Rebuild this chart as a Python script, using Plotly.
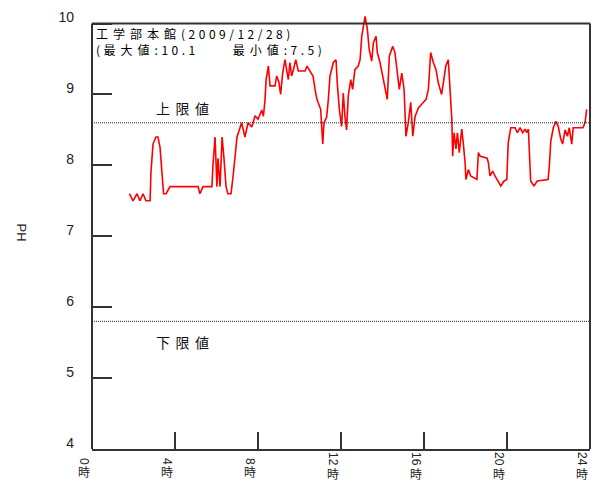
import plotly.graph_objects as go

# ---- data ----
hours = [1.80, 1.98, 2.17, 2.31, 2.46, 2.60, 2.80, 2.84, 2.94, 3.08,
         3.18, 3.28, 3.37, 3.45, 3.57, 3.76, 5.11, 5.20, 5.35, 5.78,
         5.83, 5.93, 6.02, 6.07, 6.17, 6.27, 6.36, 6.46, 6.55, 6.70,
         6.80, 6.89, 6.99, 7.21, 7.37, 7.52, 7.70, 7.86, 8.00, 8.18,
         8.26, 8.34, 8.39, 8.50, 8.58, 8.82, 8.90, 9.01, 9.09, 9.19,
         9.30, 9.38, 9.46, 9.54, 9.62, 9.70, 9.82, 9.94, 10.27, 10.36,
         10.51, 10.65, 10.75, 10.84, 11.02, 11.12, 11.18, 11.31, 11.39, 11.47,
         11.63, 11.76, 11.82, 11.92, 12.03, 12.11, 12.19, 12.27, 12.35, 12.47,
         12.56, 12.67, 12.83, 12.92, 13.00, 13.16, 13.27, 13.36, 13.48, 13.56,
         13.69, 13.75, 13.88, 14.01, 14.17, 14.23, 14.33, 14.49, 14.60, 14.71,
         14.81, 14.93, 15.04, 15.13, 15.24, 15.36, 15.46, 15.57, 15.73, 15.94,
         16.10, 16.21, 16.32, 16.45, 16.58, 16.69, 16.85, 16.93, 17.05, 17.17,
         17.25, 17.34, 17.38, 17.45, 17.54, 17.61, 17.70, 17.82, 17.89, 17.98,
         18.02, 18.14, 18.25, 18.55, 18.62, 18.70, 19.04, 19.10, 19.18, 19.31,
         19.42, 19.58, 19.70, 19.86, 19.99, 20.06, 20.18, 20.39, 20.50, 20.63,
         20.76, 20.87, 20.95, 21.03, 21.07, 21.14, 21.30, 21.46, 21.98, 22.04,
         22.11, 22.23, 22.36, 22.47, 22.59, 22.68, 22.80, 22.91, 23.00, 23.12,
         23.19, 23.66, 23.76, 23.84]

ph = [7.6, 7.5, 7.6, 7.5, 7.6, 7.5, 7.5, 7.9, 8.3, 8.4,
      8.4, 8.25, 7.9, 7.6, 7.6, 7.7, 7.7, 7.6, 7.7, 7.7,
      8.0, 8.4, 7.7, 8.1, 7.7, 8.4, 8.1, 7.7, 7.6, 7.6,
      7.85, 8.13, 8.4, 8.6, 8.4, 8.6, 8.54, 8.7, 8.65, 8.78,
      8.69, 8.93, 9.21, 9.4, 9.12, 9.12, 9.26, 9.17, 9.0, 9.3,
      9.49, 9.35, 9.21, 9.45, 9.26, 9.34, 9.49, 9.33, 9.33, 9.4,
      9.33, 9.26, 9.07, 8.93, 8.79, 8.3, 8.6, 8.68, 8.93, 9.26,
      9.45, 9.49, 9.16, 8.79, 8.55, 9.02, 8.69, 8.5, 8.98, 9.21,
      9.07, 9.35, 9.4, 9.49, 9.82, 10.1, 9.92, 9.63, 9.47, 9.73,
      9.82, 9.59, 9.45, 9.26, 9.03, 8.93, 9.54, 9.68, 9.59, 9.35,
      9.07, 9.3, 9.07, 8.41, 8.6, 8.89, 8.41, 8.69, 8.81, 8.88,
      8.93, 9.07, 9.59, 9.45, 9.35, 9.16, 9.0, 9.16, 9.4, 9.49,
      9.16, 8.65, 8.13, 8.46, 8.23, 8.46, 8.18, 8.51, 8.32, 8.04,
      7.8, 7.94, 7.85, 7.8, 8.18, 8.13, 8.1, 8.04, 7.85, 7.92,
      7.85, 7.76, 7.71, 7.78, 7.8, 8.32, 8.53, 8.53, 8.46, 8.53,
      8.46, 8.51, 8.46, 8.51, 8.15, 7.78, 7.71, 7.78, 7.8, 7.99,
      8.34, 8.53, 8.62, 8.55, 8.37, 8.3, 8.5, 8.41, 8.53, 8.3,
      8.53, 8.53, 8.6, 8.79]

upper_limit = 8.6
lower_limit = 5.8
x_tick_vals = [0, 4, 8, 12, 16, 20, 24]
x_tick_labels = ["0時", "4時", "8時", "12時", "16時", "20時", "24時"]
y_tick_vals = [4, 5, 6, 7, 8, 9, 10]
title_lines = ["工学部本館(2009/12/28)", "(最大値:10.1\u3000\u3000最小値:7.5)"]
y_title = "PH"
upper_label = "上限値"
lower_label = "下限値"

CJK = "Noto Sans CJK JP"
LAT = "Liberation Sans, Arial, sans-serif"
FRAME = "#333333"


def is_cjk(ch):
    return ord(ch) > 0x2E80


def spaced(text, cjk_ls, lat_ls):
    out, run, cur = [], "", None
    for ch in text:
        kind = is_cjk(ch)
        if cur is not None and kind != cur:
            out.append((cur, run))
            run = ""
        cur = kind
        run += ch
    if run:
        out.append((cur, run))
    return "".join(
        '<span style="letter-spacing:%spx">%s</span>' % (cjk_ls if k else lat_ls, r)
        for k, r in out)


fig = go.Figure()
fig.add_trace(go.Scatter(x=hours, y=ph, mode="lines",
                         line=dict(color="#ff0000", width=1.6),
                         hoverinfo="skip", showlegend=False))

fig.update_layout(
    width=593, height=484,
    margin=dict(l=92, r=3, t=15, b=35),
    paper_bgcolor="white", plot_bgcolor="white",
    showlegend=False,
)
fig.update_xaxes(range=[0, 24], tickvals=x_tick_vals, showticklabels=False,
                 ticks="inside", ticklen=17, tickwidth=2, tickcolor=FRAME,
                 showgrid=False, zeroline=False,
                 showline=True, linecolor=FRAME, linewidth=2)
fig.update_yaxes(range=[4, 10.12], tickvals=y_tick_vals,
                 ticks="inside", ticklen=20, tickwidth=2, tickcolor=FRAME,
                 showgrid=False, zeroline=False, showline=False,
                 tickfont=dict(family=LAT, size=14, color="#222222"),
                 ticklabelstandoff=17, ticklabelshift=-6)

ymin, ymax = y_tick_vals[0], y_tick_vals[-1]
shapes = [
    dict(type="line", xref="paper", yref="y", x0=0, x1=0, y0=ymin, y1=ymax,
         line=dict(color=FRAME, width=2)),
    dict(type="line", xref="paper", yref="y", x0=1, x1=1, y0=ymin, y1=ymax,
         line=dict(color=FRAME, width=2)),
    dict(type="line", xref="paper", yref="y", x0=0, x1=1, y0=ymax, y1=ymax,
         line=dict(color=FRAME, width=2)),
    dict(type="line", xref="paper", yref="y", x0=0, x1=1,
         y0=upper_limit, y1=upper_limit,
         line=dict(color="#222222", width=1, dash="1px,1px")),
    dict(type="line", xref="paper", yref="y", x0=0, x1=1,
         y0=lower_limit, y1=lower_limit,
         line=dict(color="#222222", width=1, dash="1px,1px")),
]
fig.update_layout(shapes=shapes)

ann = []
# title (two lines) inside the frame
title_text = "<br>".join(spaced(line, 5, 3.5) for line in title_lines)
ann.append(dict(text=title_text, xref="paper", yref="y",
                x=0, y=ymax, xanchor="left", yanchor="top", align="left",
                xshift=2, yshift=1, showarrow=False,
                font=dict(family=CJK, size=12, color="#000000")))
# limit labels
ann.append(dict(text=spaced(upper_label, 5.5, 0), xref="paper", yref="y",
                x=0, y=upper_limit, xanchor="left", yanchor="middle",
                xshift=62, yshift=15, showarrow=False,
                font=dict(family=CJK, size=14, color="#111111")))
ann.append(dict(text=spaced(lower_label, 5.5, 0), xref="paper", yref="y",
                x=0, y=lower_limit, xanchor="left", yanchor="middle",
                xshift=62, yshift=-21, showarrow=False,
                font=dict(family=CJK, size=14, color="#111111")))
# y title (rotated clockwise)
ann.append(dict(text=y_title, xref="paper", yref="paper", x=0, y=0.5,
                xshift=-80, textangle=90, showarrow=False,
                font=dict(family=LAT, size=13, color="#222222")))
# x tick labels, vertical writing: rotated digits + upright 時
for v, lab in zip(x_tick_vals, x_tick_labels):
    num, suf = lab[:-1], lab[-1]
    n = len(num)
    ann.append(dict(text=num, xref="x", yref="paper", x=v, y=0,
                    xanchor="center", yanchor="middle", textangle=90,
                    xshift=-8, yshift=-(12 if n == 1 else 10), showarrow=False,
                    font=dict(family=LAT, size=12, color="#222222")))
    ann.append(dict(text=suf, xref="x", yref="paper", x=v, y=0,
                    xanchor="center", yanchor="middle",
                    xshift=-8, yshift=-(22.5 if n == 1 else 24), showarrow=False,
                    font=dict(family=CJK, size=12, color="#222222")))
fig.update_layout(annotations=ann)

fig.write_html("out.html",
               config={"displayModeBar": False},
               post_script="document.body.style.margin='0';"
                           "document.body.style.padding='0';")
